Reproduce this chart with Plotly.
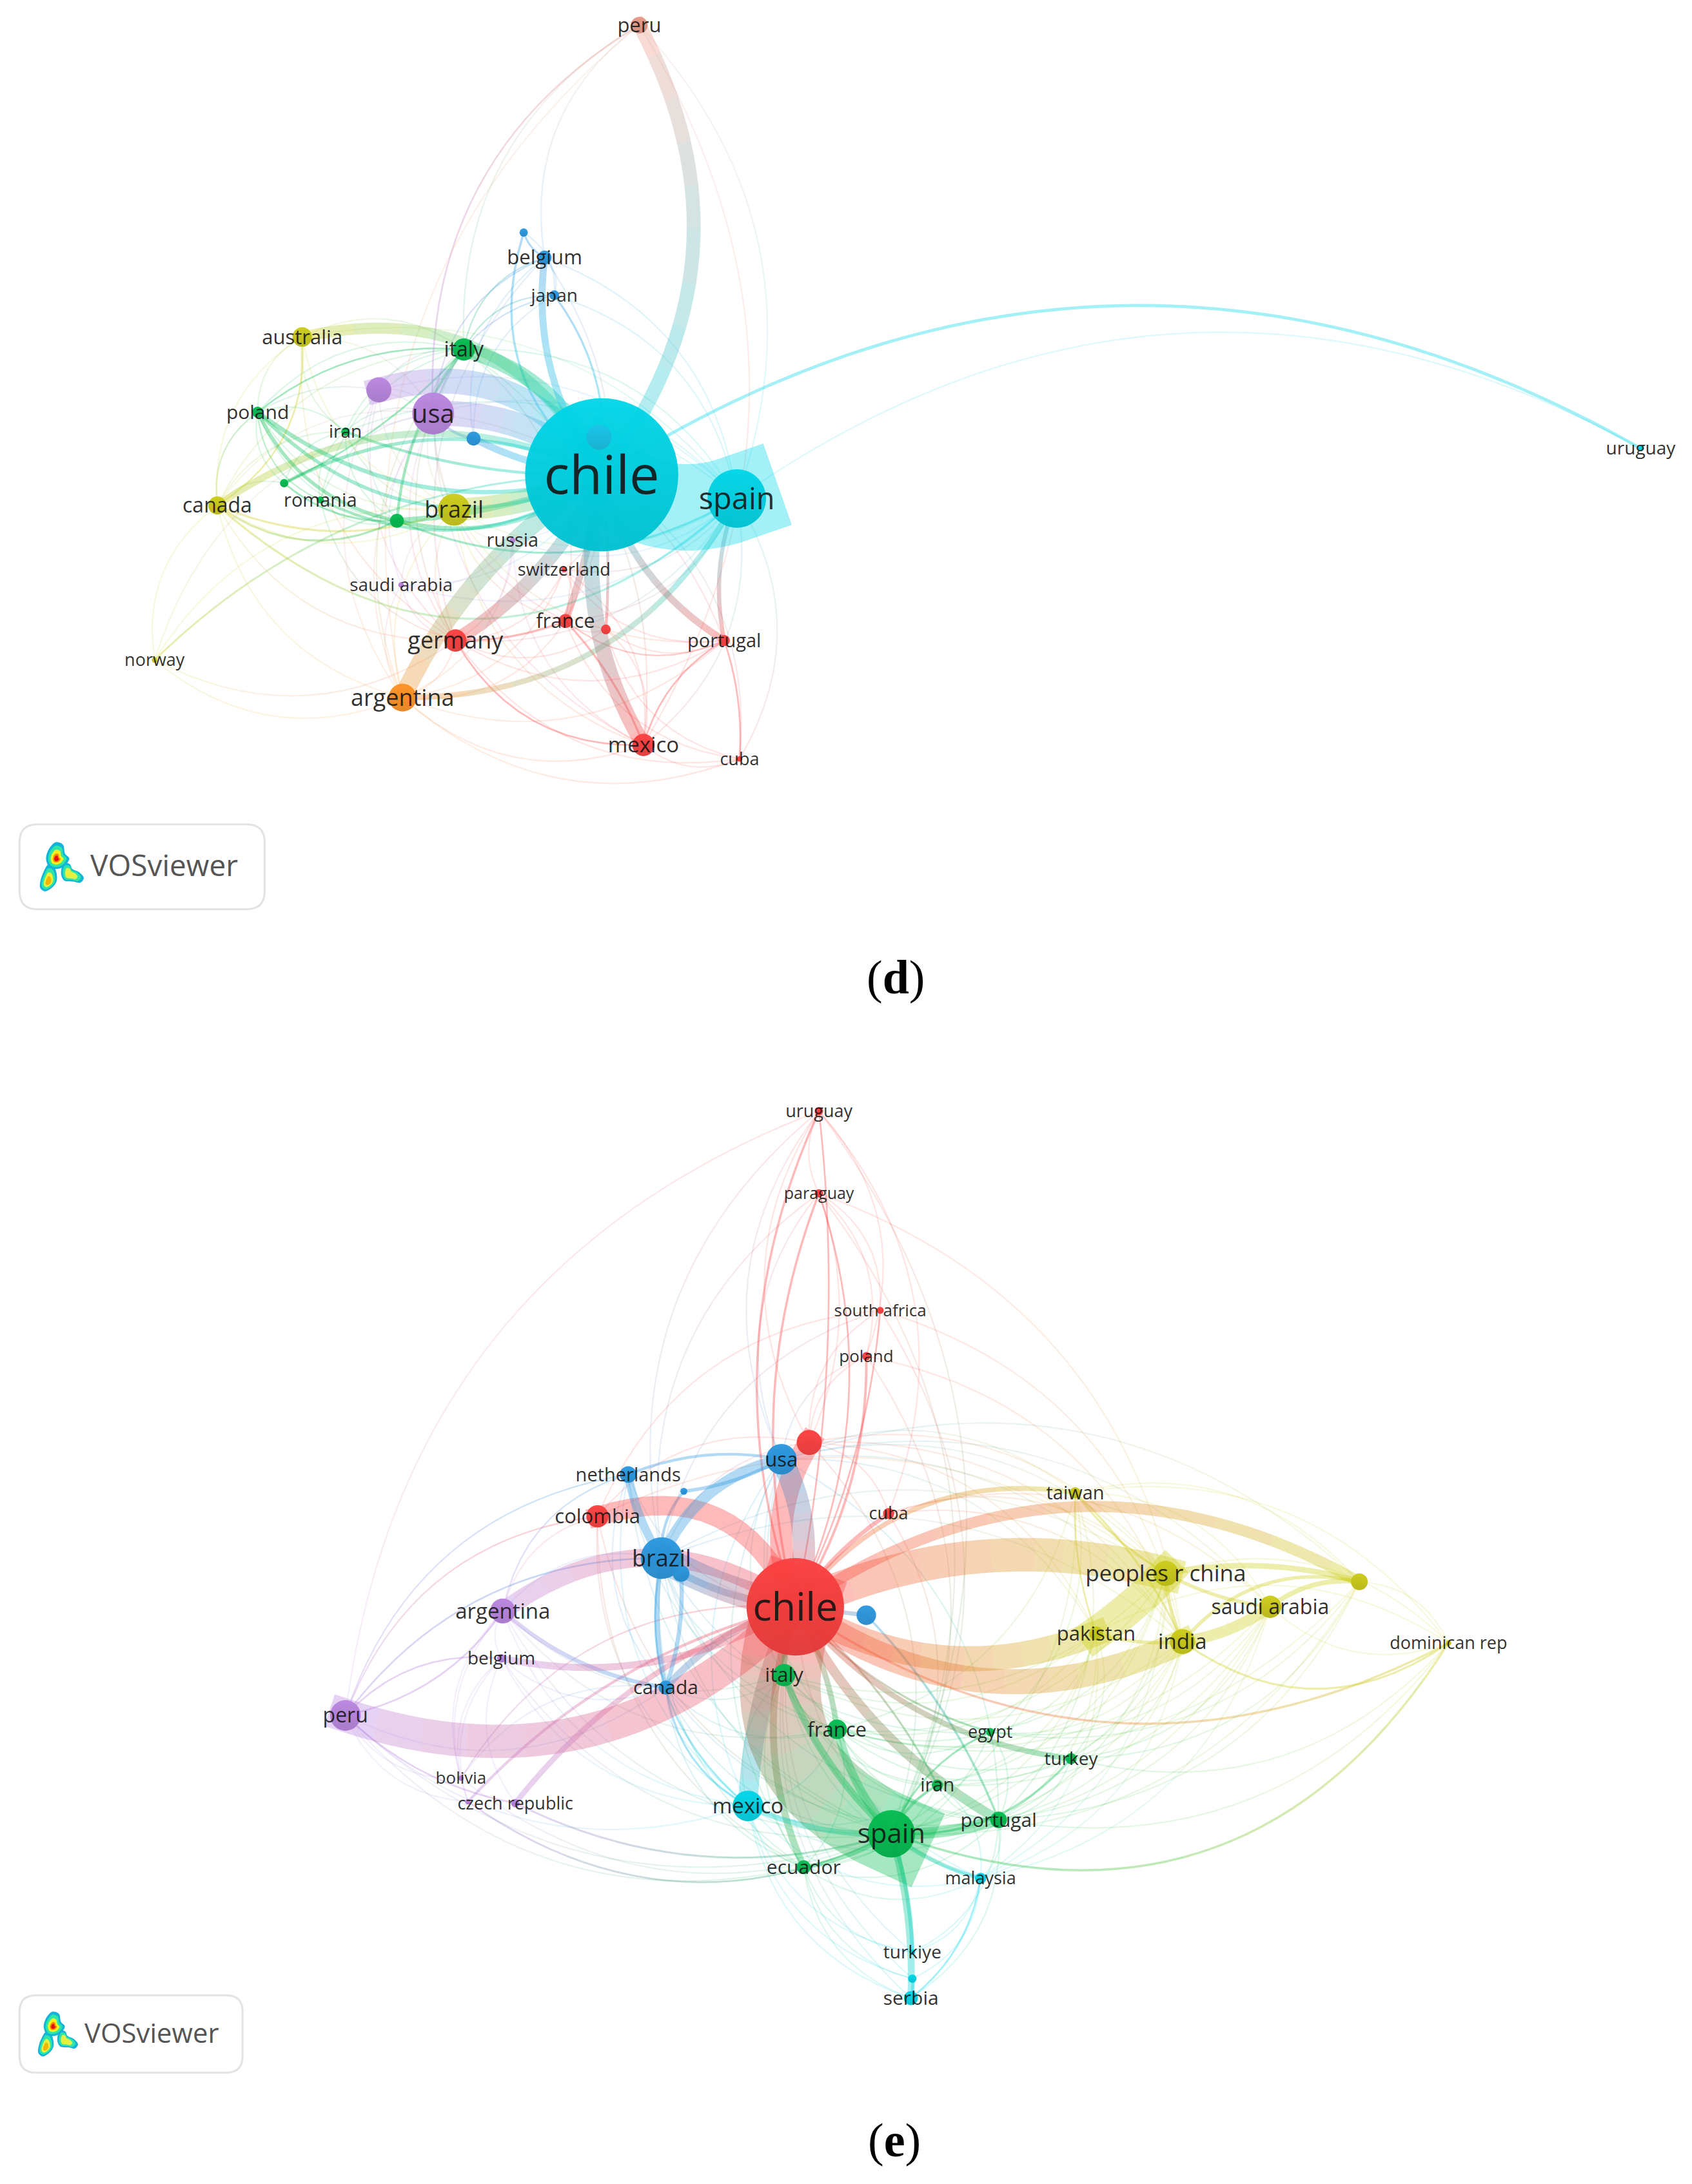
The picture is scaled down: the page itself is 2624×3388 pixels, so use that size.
import plotly.graph_objects as go

# all positions below are read in the coordinates of the reference shown at 1214.8 x 1568
PX = 2.16
W_UNITS = 2624 / PX
H_UNITS = 3388 / PX

COLORS = {
    "red": "#fc4040", "salmon": "#e89a88", "orange": "#ff9224", "yellow": "#cccc1a",
    "green": "#04bc50", "blue": "#2a98e0", "cyan": "#00d6e8", "purple": "#ba86e0",
    "pale": "#1cc4e8",
}

# Panel d nodes
d_nodes = ["chile", "spain", "peru", "belgium", "#b1", "japan", "australia", "italy", "#p1", "usa",
           "poland", "iran", "#b2", "#b3", "canada", "#g1", "romania", "brazil", "#g2", "russia",
           "switzerland", "saudi_arabia", "germany", "france", "#r1", "portugal", "norway",
           "argentina", "mexico", "cuba", "uruguay"]
d_x = [432, 529, 459, 391, 376, 398, 217, 333, 272, 311, 185, 248, 340, 430, 156, 204, 230, 326, 285,
       368, 405, 288, 327, 406, 435, 520, 111, 289, 462, 531, 1178]
d_y = [341, 358, 18, 185, 167, 212, 242, 251, 280, 297, 296, 310, 315, 314, 363, 347, 359, 366, 374,
       388, 409, 420, 460, 446, 452, 460, 474, 501, 535, 545, 322]
d_r = [55, 21, 6, 5, 3, 3.5, 7, 8, 9, 15, 4, 3, 5, 9, 6.5, 3, 2.5, 11.5, 5, 2, 2, 2, 8, 5, 3.5, 4, 2,
       10, 8, 2, 2]
d_cluster = ["cyan", "cyan", "salmon", "blue", "blue", "blue", "yellow", "green", "purple", "purple",
             "green", "green", "blue", "pale", "yellow", "green", "green", "yellow", "green", "purple",
             "red", "purple", "red", "red", "red", "red", "yellow", "orange", "red", "red", "cyan"]
d_font = [83, 47, 31, 31, 0, 28, 31, 32, 0, 40, 30, 28, 0, 0, 32, 0, 29, 36, 0, 29, 27, 28, 36, 31, 0,
          29, 27, 36, 33, 27, 28]

# source, target, width, bend
d_links = [
    ("chile", "spain", 62, 0.28), ("peru", "chile", 10, -0.32), ("chile", "uruguay", 2.2, -0.3),
    ("spain", "uruguay", 1.0, -0.31), ("#p1", "chile", 18, -0.36), ("usa", "chile", 18, -0.2),
    ("australia", "chile", 8, -0.38), ("italy", "chile", 11, -0.25), ("canada", "chile", 5, -0.29),
    ("#g1", "chile", 2.5, -0.25), ("poland", "chile", 3, 0.25), ("poland", "chile", 2.5, 0.35),
    ("#g2", "chile", 4, 0.08), ("#g2", "chile", 3, 0.25), ("brazil", "chile", 16, 0.1),
    ("argentina", "chile", 13, -0.15), ("argentina", "spain", 4, 0.3),
    ("germany", "chile", 10, 0.15), ("france", "chile", 5, 0.05), ("#r1", "chile", 2, 0.05),
    ("mexico", "chile", 11, -0.2), ("portugal", "chile", 5, -0.2), ("portugal", "spain", 3, -0.15),
    ("belgium", "chile", 5, 0.2), ("#b1", "chile", 1.6, 0.35), ("japan", "chile", 1.5, -0.2),
    ("#b2", "chile", 5, 0.1), ("usa", "#b2", 2, 0.2), ("poland", "#g2", 2.5, 0.25),
    ("romania", "chile", 2, 0.3), ("iran", "chile", 2, 0.1), ("italy", "#g2", 2, 0.15),
    ("italy", "#g1", 1.3, -0.1), ("italy", "poland", 1.2, 0.2), ("#g1", "#g2", 1.4, 0.2),
    ("canada", "brazil", 1.5, 0.2), ("canada", "#g2", 1.5, 0.3),
    ("germany", "france", 1.5, 0.1), ("mexico", "france", 1.5, 0.1), ("germany", "mexico", 1.2, 0.3),
    ("portugal", "mexico", 1.2, 0.2), ("cuba", "portugal", 1.2, 0.1), ("#b1", "belgium", 1.4, 0.2),
    ("norway", "chile", 1.4, -0.2), ("canada", "spain", 1.5, 0.45), ("canada", "australia", 1.2, 0.3),
    ("#g2", "spain", 1.5, 0.25), ("peru", "usa", 1.2, 0.3), ("peru", "spain", 1, -0.3),
]

d_faint = {
    "norway": "canada usa brazil germany argentina",
    "canada": "usa brazil poland italy argentina germany australia #g1 iran",
    "australia": "usa italy brazil poland spain iran germany",
    "poland": "usa italy brazil iran #g1 romania canada #g2",
    "iran": "usa italy #g2 brazil #g1 spain",
    "romania": "usa italy #g2 poland iran germany",
    "usa": "brazil italy germany argentina france mexico spain #p1 belgium japan saudi_arabia portugal",
    "#p1": "brazil italy germany spain argentina #g2",
    "italy": "brazil germany france spain belgium japan mexico argentina",
    "belgium": "japan italy usa spain france germany #b2",
    "japan": "usa spain #b2 #b1 italy",
    "brazil": "germany argentina france spain mexico portugal russia saudi_arabia",
    "argentina": "germany france mexico saudi_arabia switzerland cuba russia portugal",
    "germany": "spain switzerland saudi_arabia russia portugal #r1 cuba",
    "france": "spain portugal cuba switzerland #r1 portugal",
    "mexico": "spain cuba #r1 switzerland russia",
    "portugal": "#r1 switzerland",
    "cuba": "chile spain #r1",
    "peru": "belgium italy argentina mexico",
    "saudi_arabia": "chile spain russia",
    "russia": "chile spain",
    "switzerland": "chile spain",
}

# Panel e nodes
e_nodes = ["chile", "uruguay", "paraguay", "south_africa", "poland", "#r1", "usa", "netherlands", "#b1",
           "colombia", "cuba", "taiwan", "brazil", "#b2", "peoples_r_china", "#y1", "saudi_arabia", "#b3",
           "argentina", "pakistan", "india", "dominican_rep", "belgium", "italy", "canada", "peru",
           "france", "egypt", "turkey", "iran", "bolivia", "#p1", "czech_republic", "mexico", "spain",
           "portugal", "ecuador", "malaysia", "turkiye", "#c1", "serbia"]
e_x = [571, 588, 588, 632, 622, 581, 561, 451, 491, 429, 638, 772, 475, 489, 837, 976, 912, 622, 361,
       787, 849, 1040, 360, 563, 478, 248, 601, 711, 769, 673, 331, 336, 370, 537, 640, 717, 577, 704,
       655, 655, 654]
e_y = [1154, 798, 857, 941, 974, 1036, 1048, 1059, 1071, 1089, 1087, 1072, 1119, 1130, 1130, 1136, 1154,
       1160, 1157, 1173, 1179, 1180, 1191, 1203, 1212, 1232, 1242, 1244, 1263, 1282, 1277, 1294, 1295,
       1297, 1317, 1307, 1341, 1349, 1402, 1421, 1435]
e_r = [35, 3, 3, 2.5, 3, 9, 11, 6, 2.5, 8, 4, 4, 15, 6, 9, 6, 8, 7, 9, 5, 9, 2, 3, 8, 5, 11, 7, 3, 4, 4,
       2, 2, 3, 11, 17, 6, 5, 4, 2, 3, 5]
e_cluster = ["red", "red", "red", "red", "red", "red", "blue", "blue", "blue", "red", "red", "yellow",
             "blue", "blue", "yellow", "yellow", "yellow", "blue", "purple", "yellow", "yellow", "yellow",
             "purple", "green", "blue", "purple", "green", "green", "green", "green", "purple", "purple",
             "purple", "cyan", "green", "green", "green", "cyan", "cyan", "cyan", "cyan"]
e_font = [61, 27, 25, 26, 26, 0, 31, 29, 0, 31, 27, 29, 36, 0, 35, 0, 32, 0, 33, 31, 33, 27, 28, 31, 30,
          32, 31, 27, 28, 29, 26, 0, 27, 33, 42, 30, 30, 27, 28, 0, 30]

e_links = [
    ("peru", "chile", 24, 0.31), ("argentina", "chile", 13, -0.35), ("colombia", "chile", 14, -0.45),
    ("#r1", "chile", 16, 0.25), ("usa", "chile", 16, -0.2), ("brazil", "chile", 20, 0.08),
    ("canada", "chile", 5, -0.15), ("argentina", "canada", 3, 0.15), ("belgium", "chile", 5, 0.2),
    ("czech_republic", "chile", 4, -0.15), ("#p1", "chile", 2, -0.15), ("mexico", "chile", 14, -0.1),
    ("chile", "spain", 58, 0.46), ("france", "spain", 6, 0.12), ("italy", "spain", 5, 0.12),
    ("portugal", "chile", 7, -0.15), ("ecuador", "chile", 5, -0.2), ("ecuador", "spain", 3, 0.1),
    ("mexico", "spain", 4, 0.12), ("portugal", "spain", 8, -0.08), ("malaysia", "spain", 3, -0.1),
    ("serbia", "spain", 5, 0.08), ("turkiye", "spain", 3, 0.08), ("turkey", "chile", 4, -0.2),
    ("iran", "spain", 2, 0.15), ("france", "chile", 4, 0.1), ("italy", "chile", 4, -0.1),
    ("chile", "peoples_r_china", 24, -0.18), ("pakistan", "peoples_r_china", 24, 0.05),
    ("chile", "#y1", 8, -0.31), ("chile", "india", 18, 0.29), ("chile", "pakistan", 18, 0.25),
    ("chile", "taiwan", 3.5, -0.3), ("peoples_r_china", "#y1", 4, -0.12), ("india", "saudi_arabia", 8, 0.12),
    ("saudi_arabia", "#y1", 3.5, -0.2), ("india", "#y1", 2.5, -0.3), ("pakistan", "india", 2.5, 0.1),
    ("peoples_r_china", "india", 2.5, 0.1), ("peoples_r_china", "saudi_arabia", 2.5, 0.1),
    ("taiwan", "peoples_r_china", 1.5, 0.1), ("taiwan", "india", 1.5, -0.1), ("taiwan", "pakistan", 1.2, 0.1),
    ("india", "dominican_rep", 1.5, 0.35), ("saudi_arabia", "dominican_rep", 1, 0.3),
    ("#y1", "dominican_rep", 1, -0.3), ("chile", "dominican_rep", 1.6, 0.3), ("spain", "dominican_rep", 1.6, 0.4),
    ("uruguay", "chile", 1.6, 0.2), ("uruguay", "chile", 1.2, -0.08), ("paraguay", "chile", 1.6, 0.16),
    ("paraguay", "chile", 1.2, -0.2), ("uruguay", "paraguay", 1, 0.25), ("south_africa", "chile", 1.2, -0.1),
    ("poland", "chile", 1.8, -0.15), ("cuba", "chile", 3, 0.1), ("#r1", "paraguay", 1, 0.2),
    ("netherlands", "brazil", 6, 0.1), ("usa", "brazil", 8, 0.25), ("netherlands", "usa", 2, -0.15),
    ("brazil", "canada", 3.5, 0.1), ("#b2", "canada", 3, -0.1), ("#b3", "chile", 3, 0), ("#b2", "chile", 5, 0.1),
    ("#b1", "usa", 2.5, 0.1), ("#b1", "brazil", 2, 0.2), ("canada", "mexico", 1.5, 0.25), ("brazil", "mexico", 1.5, 0.3),
    ("#b3", "portugal", 1.6, -0.1), ("egypt", "chile", 1.5, -0.15), ("egypt", "spain", 1.4, 0.2),
    ("turkey", "spain", 1.6, -0.25), ("iran", "chile", 1.5, 0.1), ("serbia", "malaysia", 1.3, 0.2),
    ("serbia", "#c1", 2, 0.1), ("peru", "argentina", 1.3, 0.2), ("peru", "brazil", 1.2, -0.25), ("peru", "belgium", 1.2, -0.25),
    ("peru", "czech_republic", 1.2, 0.15), ("czech_republic", "spain", 1.4, 0.2), ("#p1", "spain", 1.3, 0.3),
]

e_faint = {
    "uruguay": "usa brazil spain cuba poland #r1",
    "paraguay": "usa brazil spain south_africa poland india",
    "south_africa": "india spain brazil #r1 colombia",
    "poland": "#r1 spain india usa",
    "#r1": "spain india brazil colombia cuba peoples_r_china pakistan",
    "usa": "spain india peoples_r_china #y1 mexico italy france portugal pakistan taiwan ecuador saudi_arabia",
    "netherlands": "chile spain peru argentina canada mexico france",
    "colombia": "spain argentina peru mexico ecuador peoples_r_china",
    "cuba": "spain india peoples_r_china saudi_arabia",
    "taiwan": "saudi_arabia france spain egypt portugal #y1 dominican_rep",
    "brazil": "spain france italy portugal ecuador argentina peoples_r_china india egypt",
    "peoples_r_china": "spain france portugal egypt iran turkey italy malaysia",
    "india": "spain france portugal egypt iran turkey italy malaysia",
    "pakistan": "spain france portugal egypt iran turkey italy malaysia",
    "saudi_arabia": "spain portugal egypt iran turkey france malaysia",
    "#y1": "spain portugal egypt turkey france",
    "dominican_rep": "portugal turkey peoples_r_china pakistan",
    "argentina": "spain mexico belgium bolivia #p1 italy france netherlands",
    "belgium": "bolivia #p1 czech_republic canada mexico spain",
    "peru": "mexico spain ecuador bolivia #p1 canada colombia netherlands uruguay",
    "canada": "spain france italy portugal ecuador",
    "italy": "france portugal egypt iran turkey ecuador mexico malaysia",
    "france": "portugal egypt iran turkey ecuador mexico malaysia",
    "mexico": "serbia turkiye malaysia #c1 portugal ecuador iran",
    "ecuador": "serbia turkiye #c1 portugal iran egypt malaysia",
    "chile": "turkiye malaysia #c1 serbia bolivia",
    "malaysia": "portugal turkiye #c1 iran",
    "portugal": "iran egypt turkey serbia turkiye",
    "bolivia": "canada spain chile",
}

caption_x = [643, 642]
caption_y = [702, 1537]
caption_text = ["(<b>d</b>)", "(<b>e</b>)"]


def hex_rgb(c):
    return tuple(int(c[i:i + 2], 16) for i in (1, 3, 5))


def mix(c1, c2, t):
    a, b = hex_rgb(c1), hex_rgb(c2)
    return tuple(round(a[i] + (b[i] - a[i]) * t) for i in range(3))


def darker(c, f=0.9):
    return "rgb(%d,%d,%d)" % tuple(v * f for v in hex_rgb(c))


def sample(a, b, bend, n):
    # quadratic arc between two nodes, bend is the control point offset as share of the length
    dx, dy = b[0] - a[0], b[1] - a[1]
    cx = (a[0] + b[0]) / 2 - dy * bend
    cy = (a[1] + b[1]) / 2 + dx * bend
    pts = []
    for i in range(n + 1):
        t = i / n
        x = (1 - t) ** 2 * a[0] + 2 * t * (1 - t) * cx + t ** 2 * b[0]
        y = (1 - t) ** 2 * a[1] + 2 * t * (1 - t) * cy + t ** 2 * b[1]
        tx = 2 * (1 - t) * (cx - a[0]) + 2 * t * (b[0] - cx)
        ty = 2 * (1 - t) * (cy - a[1]) + 2 * t * (b[1] - cy)
        ln = (tx ** 2 + ty ** 2) ** 0.5 or 1
        pts.append((x, y, tx / ln, ty / ln))
    return pts


fills = {}
strokes = {}
link_no = 0


def add_link(a, b, c1, c2, width, bend, alpha):
    global link_no
    link_no += 1
    length = ((b[0] - a[0]) ** 2 + (b[1] - a[1]) ** 2) ** 0.5
    if width >= 2.4:
        n = max(16, int(length / 10))
        pts = sample(a, b, bend, n)
        h = width / 2
        for i in range(n):
            p, q = pts[i], pts[i + 1]
            # butt ends of the ribbon stick out past the node by half a width
            px, py = (p[0] - p[2] * h, p[1] - p[3] * h) if i == 0 else p[:2]
            qx, qy = (q[0] + q[2] * h, q[1] + q[3] * h) if i == n - 1 else q[:2]
            col = "rgba(%d,%d,%d,%.2f)" % (*mix(c1, c2, round((i + 0.5) / n * 10) / 10), alpha)
            # one bucket per link, shared paths would not stack their alpha where links cross
            xs, ys = fills.setdefault((link_no, col), ([], []))
            xs += [px - p[3] * h, qx - q[3] * h, qx + q[3] * h, px + p[3] * h, None]
            ys += [py + p[2] * h, qy + q[2] * h, qy - q[2] * h, py - p[2] * h, None]
    else:
        n = max(10, int(length / 12))
        pts = sample(a, b, bend, n)
        for i in range(n):
            col = "rgba(%d,%d,%d,%.2f)" % (*mix(c1, c2, round((i + 0.5) / n * 10) / 10), alpha)
            xs, ys = strokes.setdefault((col, round(width * PX, 1)), ([], []))
            xs += [pts[i][0], pts[i + 1][0], None]
            ys += [pts[i][1], pts[i + 1][1], None]


def add_panel(nodes, xs, ys, clusters, links, faint):
    pos = {n: (x, y) for n, x, y in zip(nodes, xs, ys)}
    col = {n: COLORS[c] for n, c in zip(nodes, clusters)}
    mx, my = sum(xs) / len(xs), sum(ys) / len(ys)
    # faint links first, they bow away from the middle of the panel
    for src, targets in faint.items():
        for t in targets.split():
            a, b = pos[src], pos[t]
            side = (-(b[1] - a[1])) * ((a[0] + b[0]) / 2 - mx) + (b[0] - a[0]) * ((a[1] + b[1]) / 2 - my)
            add_link(a, b, col[src], col[t], 1.0, 0.3 if side > 0 else -0.3, 0.14)
    for a, b, w, bend in links:
        add_link(pos[a], pos[b], col[a], col[b], w, bend, 0.36 if w > 1 else 0.14)


add_panel(d_nodes, d_x, d_y, d_cluster, d_links, d_faint)
add_panel(e_nodes, e_x, e_y, e_cluster, e_links, e_faint)

fig = go.Figure()

for (col, w), (xs, ys) in strokes.items():
    fig.add_trace(go.Scatter(x=xs, y=ys, mode="lines", line=dict(color=col, width=w), hoverinfo="skip"))
for (_, col), (xs, ys) in fills.items():
    fig.add_trace(go.Scatter(x=xs, y=ys, mode="lines", fill="toself", fillcolor=col,
                             line=dict(width=0), hoverinfo="skip"))

# Nodes and labels
for nodes, xs, ys, rs, clusters, fonts in [(d_nodes, d_x, d_y, d_r, d_cluster, d_font),
                                           (e_nodes, e_x, e_y, e_r, e_cluster, e_font)]:
    fig.add_trace(go.Scatter(
        x=xs, y=ys, mode="markers",
        marker=dict(size=[2 * r * PX for r in rs], color=[COLORS[c] for c in clusters], opacity=0.96,
                    gradient=dict(type="vertical", color=[darker(COLORS[c]) for c in clusters]),
                    line=dict(width=0)),
        hoverinfo="skip",
    ))
    labels = [n.replace("_", " ") if not n.startswith("#") else "" for n in nodes]
    # the text sits a little high on its anchor, more so for the big labels
    label_y = [y + 0.1 * f / PX for y, f in zip(ys, fonts)]
    fig.add_trace(go.Scatter(
        x=xs, y=label_y, mode="text", text=labels, textposition="middle center",
        textfont=dict(family="Open Sans", size=[f or 1 for f in fonts], color="rgba(20,20,20,0.9)"),
        hoverinfo="skip",
    ))

# VOSviewer badges, the second one is the first one scaled down
logo_blobs = [
    ([(260, 205), (290, 215), (300, 255), (318, 275), (300, 305), (270, 320), (235, 315), (218, 280),
      (225, 245), (245, 215)], (262, 278)),
    ([(205, 340), (225, 310), (250, 320), (262, 375), (245, 405), (210, 425), (190, 410), (192, 375)], (225, 385)),
    ([(300, 300), (325, 305), (335, 325), (365, 340), (385, 365), (370, 385), (340, 380), (300, 375),
      (287, 345)], (325, 350)),
]
logo_layers = [
    (1.08, ["#12b4d8", "#12b4d8", "#12b4d8"]),
    (0.86, ["#2fe6a8", "#2fe6a8", "#2fe6a8"]),
    (0.6, ["#f2f21e", "#e8f03c", "#dff04a"]),
    (0.36, ["#ff8a00", "#f5b400", "#e8f03c"]),
    (0.22, ["#e01010", "#f5b400", "#e8f03c"]),
]
badges = [(14, 592, 1.0), (14, 1433, 0.91)]
shapes = []
for bx, by, s in badges:
    def tx(u):
        return bx + (u - 14) * s

    def ty(v):
        return by + (v - 592) * s

    x0, x1, y0, y1 = tx(14), tx(190), ty(592), ty(653)
    r = 13 * s
    shapes.append(dict(
        type="path", line=dict(color="#e3e3e3", width=3), fillcolor="white", layer="below",
        path=f"M {x0 + r} {y0} L {x1 - r} {y0} Q {x1} {y0} {x1} {y0 + r} L {x1} {y1 - r} Q {x1} {y1} {x1 - r} {y1} "
             f"L {x0 + r} {y1} Q {x0} {y1} {x0} {y1 - r} L {x0} {y0 + r} Q {x0} {y0} {x0 + r} {y0} Z",
    ))
    for scale, cols in logo_layers:
        for (pts, centre), c in zip(logo_blobs, cols):
            lx = [tx((centre[0] + (p[0] - centre[0]) * scale) / 3 / PX) for p in pts]
            ly = [ty((1240 + (centre[1] + (p[1] - centre[1]) * scale) / 3) / PX) for p in pts]
            fig.add_trace(go.Scatter(x=lx + lx[:1], y=ly + ly[:1], mode="lines", fill="toself", fillcolor=c,
                                     line=dict(width=0, shape="spline"), hoverinfo="skip"))
    fig.add_annotation(x=tx(64), y=ty(621), text="VOSviewer", showarrow=False, xanchor="left",
                       font=dict(family="Open Sans", size=46 * s, color="#555555"))

for x, y, t in zip(caption_x, caption_y, caption_text):
    fig.add_annotation(x=x, y=y, text=t, showarrow=False,
                       font=dict(family="Liberation Serif", size=74, color="black"))

fig.update_layout(
    width=2624, height=3388, autosize=False, showlegend=False,
    margin=dict(l=0, r=0, t=0, b=0),
    paper_bgcolor="white", plot_bgcolor="white",
    shapes=shapes,
    xaxis=dict(range=[0, W_UNITS], visible=False, fixedrange=True),
    yaxis=dict(range=[H_UNITS, 0], visible=False, fixedrange=True),
)

fig.write_html("out.html", config={"displayModeBar": False},
               post_script="document.body.style.margin='0';")
